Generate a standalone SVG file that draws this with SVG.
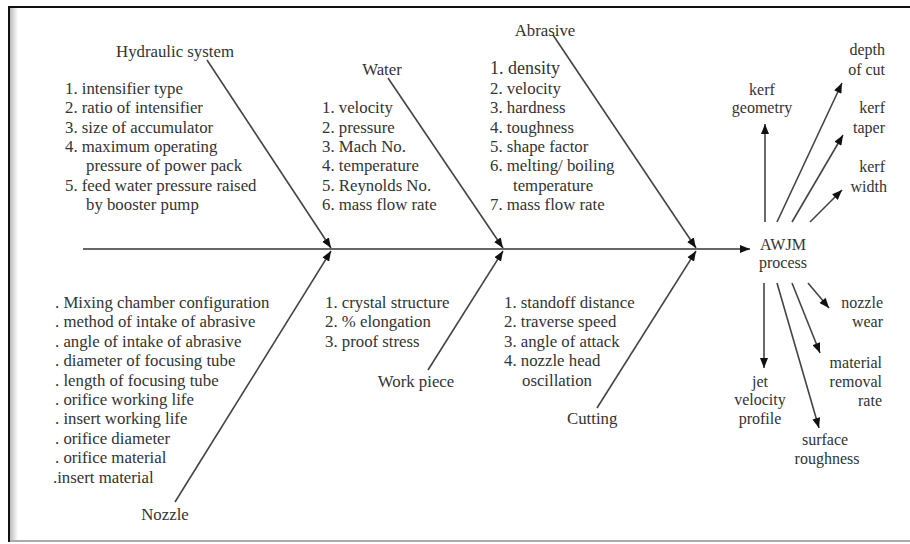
<svg xmlns="http://www.w3.org/2000/svg" width="910" height="544" viewBox="0 0 910 544">
<defs>
<style>
text{font-family:"Liberation Serif","Times New Roman",serif;font-size:16.8px;fill:#333}
.m{text-anchor:middle}
.e{text-anchor:end}
.r{font-size:16px}
.ln{stroke:#444;stroke-width:1.6;fill:none}
.sp{stroke:#666;stroke-width:2.2;fill:none}
</style>
<marker id="ah" viewBox="0 0 10 8" refX="10" refY="4" markerWidth="11" markerHeight="8" markerUnits="userSpaceOnUse" orient="auto">
<path d="M0,0 L10,4 L0,8 Z" fill="#111"/>
</marker>
<marker id="jh" viewBox="0 0 10 8" refX="10" refY="4" markerWidth="10" markerHeight="9" markerUnits="userSpaceOnUse" orient="auto">
<path d="M0,0 L10,4 L0,8 Z" fill="#111"/>
</marker>
<linearGradient id="sh" x1="0" x2="1" y1="0" y2="0">
<stop offset="0" stop-color="#bbb"/>
<stop offset="1" stop-color="#fff"/>
</linearGradient>
</defs>
<rect x="0" y="0" width="910" height="544" fill="#fff"/>
<g id="frame">
<rect x="10" y="8" width="8" height="533" fill="url(#sh)"/>
<line x1="9" y1="7" x2="910" y2="7" stroke="#111" stroke-width="2"/>
<line x1="9" y1="6" x2="9" y2="542" stroke="#111" stroke-width="2"/>
<line x1="10" y1="541" x2="910" y2="541" stroke="#aaa" stroke-width="2"/>
</g>
<g id="connectors">
<path class="sp" d="M83,249 L750,249" marker-end="url(#ah)"/>
<path class="ln" d="M207,60 L331,248" marker-end="url(#jh)"/>
<path class="ln" d="M175,502 L331,251" marker-end="url(#jh)"/>
<path class="ln" d="M388,78 L503,248" marker-end="url(#jh)"/>
<path class="ln" d="M428,370 L503,251" marker-end="url(#jh)"/>
<path class="ln" d="M553,35 L696,248" marker-end="url(#jh)"/>
<path class="ln" d="M597,408 L696,251" marker-end="url(#jh)"/>
<path class="ln" d="M765,222 L765,124" marker-end="url(#ah)"/>
<path class="ln" d="M777,222 L842,83" marker-end="url(#ah)"/>
<path class="ln" d="M792,222 L843,135" marker-end="url(#ah)"/>
<path class="ln" d="M810,222 L842,190" marker-end="url(#ah)"/>
<path class="ln" d="M764,283 L764,368" marker-end="url(#ah)"/>
<path class="ln" d="M777,283 L819,428" marker-end="url(#ah)"/>
<path class="ln" d="M792,283 L820,353" marker-end="url(#ah)"/>
<path class="ln" d="M808,283 L829,308" marker-end="url(#ah)"/>
</g>
<g id="hydraulic">
<text class="m" x="175" y="57">Hydraulic system</text>
<text x="65" y="94">1. intensifier type</text>
<text x="65" y="113.3">2. ratio of intensifier</text>
<text x="65" y="132.6">3. size of accumulator</text>
<text x="65" y="151.9">4. maximum  operating</text>
<text x="86" y="171.2">pressure of power pack</text>
<text x="65" y="190.5">5. feed water pressure raised</text>
<text x="86" y="209.8">by booster pump</text>
</g>
<g id="water">
<text class="m" x="382" y="75">Water</text>
<text x="322" y="113.3">1. velocity</text>
<text x="322" y="132.6">2. pressure</text>
<text x="322" y="151.9">3. Mach No.</text>
<text x="322" y="171.2">4. temperature</text>
<text x="322" y="190.5">5. Reynolds No.</text>
<text x="322" y="209.8">6. mass flow rate</text>
</g>
<g id="abrasive">
<text class="m" x="545" y="36">Abrasive</text>
<text x="490" y="74" style="font-size:18px">1. density</text>
<text x="490" y="94">2. velocity</text>
<text x="490" y="113.3">3. hardness</text>
<text x="490" y="132.6">4. toughness</text>
<text x="490" y="151.9">5. shape factor</text>
<text x="490" y="171.2">6. melting/ boiling</text>
<text x="513" y="190.5">temperature</text>
<text x="490" y="209.8">7. mass flow rate</text>
</g>
<g id="nozzle">
<text x="55" y="308">. Mixing chamber configuration</text>
<text x="55" y="327.4">. method of intake of abrasive</text>
<text x="55" y="346.8">. angle of intake of abrasive</text>
<text x="55" y="366.2">. diameter of focusing tube</text>
<text x="55" y="385.6">. length of focusing tube</text>
<text x="55" y="405">. orifice working life</text>
<text x="55" y="424.4">. insert working life</text>
<text x="55" y="443.8">. orifice diameter</text>
<text x="55" y="463.2">. orifice material</text>
<text x="53" y="482.6">.insert material</text>
<text class="m" x="165" y="520">Nozzle</text>
</g>
<g id="workpiece">
<text x="325" y="308">1. crystal structure</text>
<text x="325" y="327.4">2. % elongation</text>
<text x="325" y="346.8">3. proof stress</text>
<text class="m" x="416" y="387">Work piece</text>
</g>
<g id="cutting">
<text x="504" y="308">1. standoff distance</text>
<text x="504" y="327.4">2. traverse speed</text>
<text x="504" y="346.8">3. angle of attack</text>
<text x="504" y="366.2">4. nozzle head</text>
<text x="522" y="385.6">oscillation</text>
<text x="567" y="424">Cutting</text>
</g>
<g id="process">
<text class="m r" x="783" y="250">AWJM</text>
<text class="m r" x="783" y="268">process</text>
</g>
<g id="kerf-geometry">
<text class="m r" x="762" y="95">kerf</text>
<text class="m r" x="762" y="113">geometry</text>
</g>
<g id="depth-of-cut">
<text class="e r" x="885" y="55">depth</text>
<text class="e r" x="885" y="75">of cut</text>
</g>
<g id="kerf-taper">
<text class="e r" x="885" y="113">kerf</text>
<text class="e r" x="885" y="133">taper</text>
</g>
<g id="kerf-width">
<text class="e r" x="885" y="172">kerf</text>
<text class="e r" x="887" y="192">width</text>
</g>
<g id="nozzle-wear">
<text class="e r" x="883" y="308">nozzle</text>
<text class="e r" x="883" y="327">wear</text>
</g>
<g id="mrr">
<text class="e r" x="882" y="368">material</text>
<text class="e r" x="882" y="387">removal</text>
<text class="e r" x="882" y="406">rate</text>
</g>
<g id="jet-velocity">
<text class="m r" x="760" y="387">jet</text>
<text class="m r" x="760" y="405">velocity</text>
<text class="m r" x="760" y="424">profile</text>
</g>
<g id="surface-roughness">
<text class="m r" x="825" y="445">surface</text>
<text class="m r" x="827" y="464">roughness</text>
</g>
</svg>
